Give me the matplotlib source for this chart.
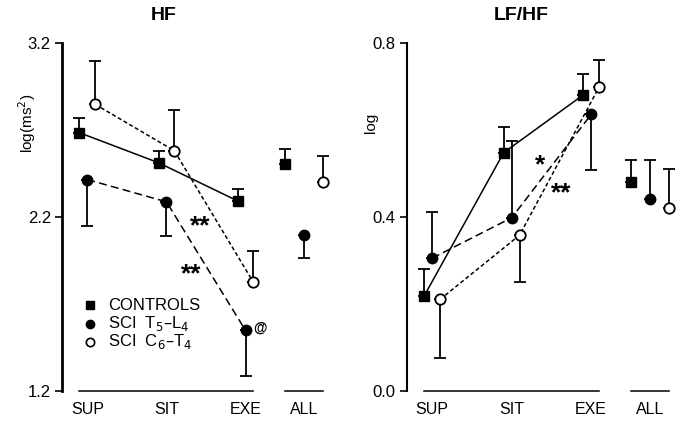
import numpy as np
import matplotlib
matplotlib.use("Agg")
import matplotlib.pyplot as plt

plt.rcParams['font.family'] = ['Liberation Sans', 'DejaVu Sans']

# categories
cats = ["SUP", "SIT", "EXE"]
all_label = "ALL"

# HF, log(ms^2)
hf_ctrl = [2.685, 2.512, 2.292]
hf_ctrl_err = [0.086, 0.067, 0.070]
hf_ctrl_all = 2.504
hf_ctrl_all_err = 0.086
hf_low = [2.415, 2.287, 1.546]
hf_low_err = [0.265, 0.198, 0.263]
hf_low_all = 2.098
hf_low_all_err = 0.136
hf_high = [2.848, 2.581, 1.823]
hf_high_err = [0.252, 0.234, 0.181]
hf_high_all = 2.400
hf_high_all_err = 0.152

# LF/HF, log
lh_ctrl = [0.218, 0.548, 0.681]
lh_ctrl_err = [0.063, 0.058, 0.048]
lh_ctrl_all = 0.481
lh_ctrl_all_err = 0.049
lh_low = [0.305, 0.398, 0.636]
lh_low_err = [0.107, 0.178, 0.129]
lh_low_all = 0.441
lh_low_all_err = 0.089
lh_high = [0.210, 0.358, 0.699]
lh_high_err = [0.136, 0.107, 0.063]
lh_high_all = 0.420
lh_high_all_err = 0.090

# error bar direction per point: +1 up, -1 down
hf_dirs = {"ctrl": [1, 1, 1, 1], "low": [-1, -1, -1, -1], "high": [1, 1, 1, 1]}
lh_dirs = {"ctrl": [1, 1, 1, 1], "low": [1, 1, -1, 1], "high": [-1, -1, 1, 1]}

x = np.arange(3)
off = 0.1
all_x = 2.74
all_off = 0.24

fig = plt.figure(figsize=(6.85, 4.22), dpi=100)
ax1 = fig.add_axes([0.0905, 0.0745, 0.395, 0.823])
ax2 = fig.add_axes([0.5937, 0.0745, 0.397, 0.823])


def one_sided(ax, xs, ys, errs, dirs):
    ys = np.asarray(ys)
    errs = np.asarray(errs)
    dirs = np.asarray(dirs)
    lo = np.where(dirs < 0, errs, 0)
    hi = np.where(dirs > 0, errs, 0)
    ax.errorbar(xs, ys, yerr=[lo, hi], fmt='none', ecolor='black',
                elinewidth=1.3, capsize=4.3, capthick=1.3, zorder=2)


def panel(ax, ctrl, ce, ca, cae, low, le, la, lae, high, he, ha, hae, dirs,
          ylim, yticks, ylabel, title, title_x, spine_w):
    xc, xl, xh = x - off, x, x + off
    ax.plot(xc, ctrl, '-', color='black', lw=1.1, zorder=3)
    ax.plot(xl, low, color='black', lw=1.1, dashes=(5.2, 2.8), zorder=3)
    ax.plot(xh, high, color='black', lw=1.1, dashes=(2.6, 1.7), zorder=3)
    one_sided(ax, np.r_[xc, all_x - all_off], np.r_[ctrl, ca], np.r_[ce, cae], dirs["ctrl"])
    one_sided(ax, np.r_[xl, all_x], np.r_[low, la], np.r_[le, lae], dirs["low"])
    one_sided(ax, np.r_[xh, all_x + all_off], np.r_[high, ha], np.r_[he, hae], dirs["high"])
    ax.plot(np.r_[xc, all_x - all_off], np.r_[ctrl, ca], 's', ms=7, mfc='black', mec='black', ls='none', zorder=4)
    ax.plot(np.r_[xl, all_x], np.r_[low, la], 'o', ms=7.5, mfc='black', mec='black', ls='none', zorder=4)
    ax.plot(np.r_[xh, all_x + all_off], np.r_[high, ha], 'o', ms=7.5, mfc='white', mec='black', mew=1.3,
            ls='none', zorder=4)

    ax.set_xlim(-0.32, 3.1)
    ax.set_ylim(*ylim)
    ax.set_yticks(yticks)
    ax.set_yticklabels([f"{t:.1f}" for t in yticks], fontsize=12)
    ax.tick_params(axis='y', length=5, width=1.2, pad=3)
    ax.set_xticks(list(x) + [all_x])
    ax.set_xticklabels(cats + [all_label], fontsize=11.5)
    ax.tick_params(axis='x', length=0, pad=8)
    for s in ['top', 'right', 'bottom']:
        ax.spines[s].set_visible(False)
    ax.spines['left'].set_linewidth(spine_w)
    # baseline segments under groups
    ax.plot([-off, 2 + off], [ylim[0], ylim[0]], color='black', lw=1.1, clip_on=False)
    ax.plot([all_x - all_off, all_x + all_off], [ylim[0], ylim[0]], color='black', lw=1.1, clip_on=False)
    ax.text(-0.13, 0.77, ylabel, transform=ax.transAxes, rotation=90, ha='center', va='center', fontsize=11)
    ax.text(title_x, ylim[1] + (ylim[1] - ylim[0]) * 0.08, title, ha='center', va='center',
            fontsize=14, fontweight='bold')


panel(ax1, hf_ctrl, hf_ctrl_err, hf_ctrl_all, hf_ctrl_all_err,
      hf_low, hf_low_err, hf_low_all, hf_low_all_err,
      hf_high, hf_high_err, hf_high_all, hf_high_all_err, hf_dirs,
      (1.2, 3.2), [1.2, 2.2, 3.2], "log(ms$^2$)", "HF", 0.96, 2.0)
panel(ax2, lh_ctrl, lh_ctrl_err, lh_ctrl_all, lh_ctrl_all_err,
      lh_low, lh_low_err, lh_low_all, lh_low_all_err,
      lh_high, lh_high_err, lh_high_all, lh_high_all_err, lh_dirs,
      (0.0, 0.8), [0.0, 0.4, 0.8], "log", "LF/HF", 1.12, 1.5)


# significance marks, (x, y) is where the star glyphs should be centred
def stars(ax, xx, yy, s, size=19):
    ax.annotate(s, (xx, yy), xytext=(0, -0.37 * size), textcoords='offset points',
                ha='center', va='baseline', fontsize=size, fontweight='bold')


stars(ax1, 1.43, 2.164, "**")
stars(ax1, 1.313, 1.884, "**")
ax1.text(2.18, 1.56, "@", ha='center', va='center', fontsize=10, fontweight='bold')
stars(ax2, 1.36, 0.526, "*")
stars(ax2, 1.627, 0.460, "**")

# legend drawn by hand
leg_x = 0.03
leg_tx = 0.26
leg_y = [1.69, 1.585, 1.48]
leg_lab = ["CONTROLS", "SCI  T$_5$–L$_4$", "SCI  C$_6$–T$_4$"]
ax1.plot(leg_x, leg_y[0], 's', ms=5.5, mfc='black', mec='black')
ax1.plot(leg_x, leg_y[1], 'o', ms=6, mfc='black', mec='black')
ax1.plot(leg_x, leg_y[2], 'o', ms=6, mfc='white', mec='black', mew=1.2)
for yy, lab in zip(leg_y, leg_lab):
    ax1.text(leg_tx, yy, lab, ha='left', va='center', fontsize=12)

fig.savefig("out.png", dpi=100)
